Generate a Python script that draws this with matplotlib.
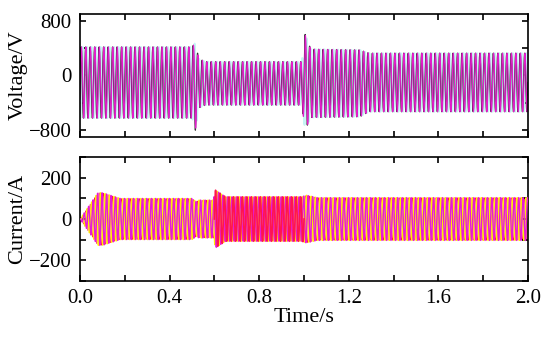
"""Three-phase voltage and current waveforms, 0-2 s."""

import matplotlib

matplotlib.use("Agg")
import matplotlib.pyplot as plt  # noqa: E402
import numpy as np  # noqa: E402
from matplotlib.ticker import MultipleLocator  # noqa: E402

plt.rcParams["font.family"] = ["Liberation Serif", "DejaVu Serif"]

FREQ = 50.0  # Hz, grid frequency
T_END = 2.0

# voltage envelope (V): peak amplitude and band centre
V_T = [0.0, 0.50, 0.515, 0.53, 0.56, 0.99, 1.005, 1.03, 1.25, 1.29, 2.0]
V_AMP = [520, 520, 640, 360, 317, 317, 700, 500, 488, 428, 428]
V_MID = [-103, -103, -160, -115, -115, -115, -100, -115, -115, -102, -102]
# traces in drawing order: colour, phase angle (deg), line width
V_COLORS = ["#c4f4f4", "#333333", "#e41ccb"]
V_PHASE = [120, 0, 28]
V_LW = [1.4, 0.9, 0.8]

# current envelope (A)
I_T = [0.0, 0.08, 0.10, 0.18, 0.50, 0.52, 0.53, 0.595, 0.605, 0.65, 0.99,
       1.01, 1.06, 2.0]
I_AMP = [0, 128, 128, 100, 100, 84, 92, 92, 140, 108, 108, 116, 104, 104]
I_COLORS = ["#ff1450", "#fff000", "#e61ad6"]
I_PHASE = [0, 120, 240]
I_RED_T = [0.6, 1.0]  # window where the red phase is drawn on top

X_TICKS = np.round(np.arange(0, 2.01, 0.2), 1)
X_LABELS = [f"{v:.1f}" if i % 2 == 0 else "" for i, v in enumerate(X_TICKS)]

t = np.linspace(0, T_END, 40001)


def wave(amp, mid, deg):
    return mid + amp * np.sin(2 * np.pi * FREQ * t - np.deg2rad(deg))


def style(ax):
    ax.set_xlim(0, T_END)
    ax.set_xticks(X_TICKS)
    ax.tick_params(direction="in", top=True, right=True, length=4,
                   width=1.2, labelsize=15, pad=6)
    ax.tick_params(which="minor", direction="in", left=True, right=True,
                   length=4, width=1.2)
    for s in ax.spines.values():
        s.set_linewidth(1.2)


fig = plt.figure(figsize=(5.5, 3.38), dpi=100)
ax1 = fig.add_axes([0.1455, 0.5947, 0.8145, 0.3639])
ax2 = fig.add_axes([0.1455, 0.1695, 0.8145, 0.365])

v_amp = np.interp(t, V_T, V_AMP)
v_mid = np.interp(t, V_T, V_MID)
for c, ph, lw in zip(V_COLORS, V_PHASE, V_LW):
    ax1.plot(t, wave(v_amp, v_mid, ph), color=c, lw=lw)
ax1.set_ylim(-900, 900)
ax1.set_yticks([-800, 0, 800])
ax1.set_yticklabels(["\u2212800", "0", "800"])
ax1.set_yticks([-400, 400], minor=True)
ax1.set_ylabel("Voltage/V", fontsize=16, labelpad=1)
style(ax1)
ax1.set_xticklabels([])

i_amp = np.interp(t, I_T, I_AMP)
red_win = (t >= I_RED_T[0]) & (t <= I_RED_T[1])
for k, (c, ph) in enumerate(zip(I_COLORS, I_PHASE)):
    y = wave(i_amp, 0.0, ph)
    if k == 0:
        ax2.plot(t, np.where(red_win, np.nan, y), color=c, lw=0.4, zorder=1)
        ax2.plot(t, np.where(red_win, y, np.nan), color=c, lw=1.2, zorder=4)
    else:
        ax2.plot(t, y, color=c, lw=1.0, zorder=1 + k)
ax2.set_ylim(-300, 300)
ax2.set_yticks([-200, 0, 200])
ax2.set_yticklabels(["\u2212200", "0", "200"])
ax2.yaxis.set_minor_locator(MultipleLocator(100))
ax2.set_ylabel("Current/A", fontsize=16, labelpad=1)
style(ax2)
ax2.set_xticklabels(X_LABELS)
ax2.set_xlabel("Time/s", fontsize=16, labelpad=0)

fig.savefig("out.png", dpi=100)
